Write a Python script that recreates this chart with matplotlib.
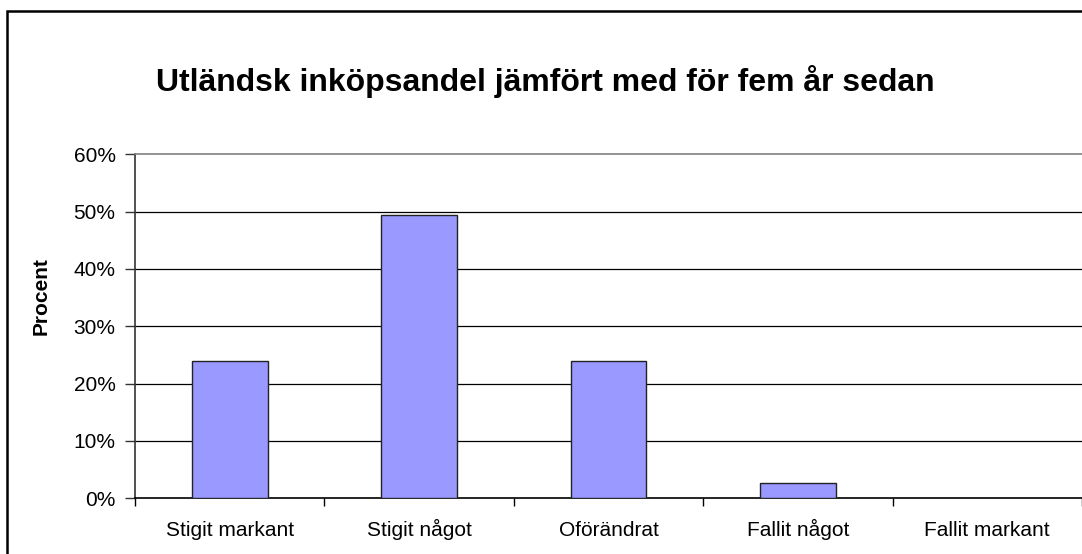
import matplotlib
matplotlib.use("Agg")
import matplotlib.pyplot as plt
from matplotlib.patches import Rectangle
from matplotlib.ticker import FixedLocator, NullFormatter, FixedFormatter
import numpy as np

categories = ["Stigit markant", "Stigit något", "Oförändrat", "Fallit något", "Fallit markant"]
values = [24.0, 49.4, 24.0, 2.6, 0.0]
yticks = [0, 10, 20, 30, 40, 50, 60]
ytick_labels = ["0%", "10%", "20%", "30%", "40%", "50%", "60%"]
title = "Utländsk inköpsandel jämfört med för fem år sedan"
ylabel = "Procent"

plt.rcParams['font.family'] = ['Liberation Sans', 'DejaVu Sans']

W, H = 1082, 554
fig = plt.figure(figsize=(W / 100, H / 100), dpi=100)
fig.patch.set_facecolor("white")

# outer chart border (extends beyond the crop at right and bottom)
fig.add_artist(Rectangle((7 / W, -0.1), 1.2, (H - 11) / H + 0.1, transform=fig.transFigure,
                         fill=False, edgecolor="#000000", linewidth=1.8, clip_on=False))

left, right = 135 / W, 1.0
bottom, top = (H - 498.3) / H, (H - 154.3) / H
ax = fig.add_axes([left, bottom, right - left, top - bottom])

x = np.arange(len(categories))
ax.bar(x, values, width=0.4, color="#9999FF", edgecolor="#222222", linewidth=1.0, zorder=3)

ax.set_xlim(-0.5, len(categories) - 0.5)
ax.set_ylim(0, 60)
ax.set_yticks(yticks)
ax.set_yticklabels(ytick_labels, fontsize=15)
for yv in yticks[1:-1]:
    ax.axhline(yv, color="#000000", linewidth=0.9, zorder=1)

ax.xaxis.set_major_locator(FixedLocator(np.arange(-0.5, len(categories), 1.0)))
ax.xaxis.set_major_formatter(NullFormatter())
ax.xaxis.set_minor_locator(FixedLocator(x))
ax.xaxis.set_minor_formatter(FixedFormatter(categories))
ax.tick_params(axis="x", which="minor", length=0, labelsize=15, pad=27)
ax.tick_params(axis="x", which="major", length=6, width=1, color="#000000", direction="out")
ax.tick_params(axis="y", length=7, width=1, color="#333333", direction="out", pad=7)
for lbl in ax.xaxis.get_minorticklabels():
    lbl.set_verticalalignment("baseline")

ax.spines["right"].set_visible(False)
ax.spines["top"].set_color("#808080")
ax.spines["top"].set_linewidth(1.2)
ax.spines["left"].set_color("#333333")
ax.spines["left"].set_linewidth(1.2)
ax.spines["bottom"].set_color("#000000")
ax.spines["bottom"].set_linewidth(1.2)

fig.text(545 / W, 1 - 91 / H, title, ha="center", va="baseline", fontsize=23, fontweight="bold")
fig.text(41 / W, 1 - 296 / H, ylabel, ha="center", va="center", rotation=90, fontsize=15, fontweight="bold")

fig.savefig("out.png", dpi=100, facecolor="white")
